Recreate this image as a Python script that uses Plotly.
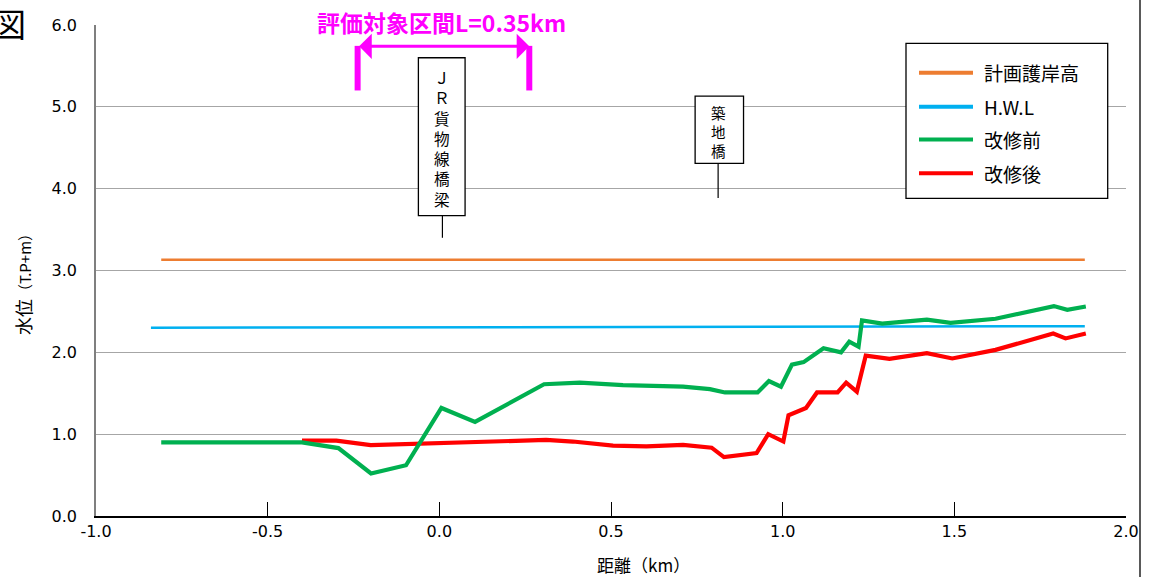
import plotly.graph_objects as go

# ---------------- data ----------------
series_names = ["計画護岸高", "H.W.L", "改修前", "改修後"]
series_colors = ["#ED7D31", "#00B0F0", "#00B050", "#FF0000"]

x_plan = [-0.81, 1.88]
y_plan = [3.13, 3.13]

x_hwl = [-0.84, 1.88]
y_hwl = [2.30, 2.32]

x_before = [-0.81, -0.40, -0.294, -0.199, -0.097, 0.006, 0.104, 0.305, 0.409, 0.535,
            0.71, 0.788, 0.832, 0.927, 0.96, 0.995, 1.027, 1.061, 1.119, 1.17,
            1.194, 1.221, 1.231, 1.29, 1.42, 1.489, 1.62, 1.79, 1.829, 1.883]
y_before = [0.90, 0.90, 0.83, 0.52, 0.62, 1.32, 1.15, 1.61, 1.63, 1.60,
            1.58, 1.55, 1.51, 1.51, 1.65, 1.58, 1.85, 1.88, 2.05, 2.00,
            2.13, 2.07, 2.39, 2.35, 2.40, 2.36, 2.41, 2.565, 2.52, 2.56]

x_after = [-0.40, -0.30, -0.20, 0.03, 0.311, 0.389, 0.506, 0.603, 0.71, 0.793,
           0.829, 0.924, 0.958, 1.002, 1.017, 1.068, 1.10, 1.16, 1.185, 1.216,
           1.242, 1.311, 1.42, 1.494, 1.62, 1.788, 1.824, 1.883]
y_after = [0.92, 0.92, 0.866, 0.90, 0.93, 0.91, 0.86, 0.85, 0.87, 0.835,
           0.72, 0.77, 1.00, 0.91, 1.23, 1.32, 1.51, 1.51, 1.63, 1.52,
           1.96, 1.92, 1.99, 1.925, 2.03, 2.23, 2.17, 2.23]

x_tickvals = [-1.0, -0.5, 0.0, 0.5, 1.0, 1.5, 2.0]
x_ticktext = ["-1.0", "-0.5", "0.0", "0.5", "1.0", "1.5", "2.0"]
y_tickvals = [0, 1, 2, 3, 4, 5, 6]
y_ticktext = ["0.0", "1.0", "2.0", "3.0", "4.0", "5.0", "6.0"]

x_title = "距離（km）"
y_title_main = "水位"
y_title_sub = "（T.P+m）"
section_title = "評価対象区間L=0.35km"
section_range = [-0.238, 0.262]
bridge_jr = ["Ｊ", "Ｒ", "貨", "物", "線", "橋", "梁"]
bridge_tsukiji = ["築", "地", "橋"]

# ---------------- layout constants ----------------
W, H = 1150, 577
ML, MR, MT, MB = 96, 24, 25, 61
PW = W - ML - MR
PH = H - MT - MB
JP = "Noto Sans CJK JP"
NUM = "DejaVu Sans"


def px2x(px):
    return (px - ML) / PW


def py2y(py):
    return (H - MB - py) / PH


fig = go.Figure()

# draw order: plan, hwl, after(red), before(green)
fig.add_trace(go.Scatter(x=x_plan, y=y_plan, mode="lines", name=series_names[0],
                         line=dict(color=series_colors[0], width=2.5), showlegend=False))
fig.add_trace(go.Scatter(x=x_hwl, y=y_hwl, mode="lines", name=series_names[1],
                         line=dict(color=series_colors[1], width=2.5), showlegend=False))
fig.add_trace(go.Scatter(x=x_after, y=y_after, mode="lines", name=series_names[3],
                         line=dict(color=series_colors[3], width=4.2), showlegend=False))
fig.add_trace(go.Scatter(x=x_before, y=y_before, mode="lines", name=series_names[2],
                         line=dict(color=series_colors[2], width=4.2), showlegend=False))

shapes = []
annotations = []

# white gap behind section title on the 6.0 gridline
shapes.append(dict(type="rect", xref="paper", yref="paper",
                   x0=px2x(253), x1=px2x(601), y0=py2y(30), y1=py2y(16),
                   fillcolor="white", line=dict(width=0), layer="above"))

# section bracket
for xv in section_range:
    shapes.append(dict(type="line", xref="x", yref="y", x0=xv, x1=xv, y0=5.20, y1=5.745,
                       line=dict(color="#FF00FF", width=6), layer="above"))
annotations.append(dict(x=section_range[1], y=5.74, ax=section_range[0], ay=5.74,
                        xref="x", yref="y", axref="x", ayref="y", text="",
                        showarrow=True, arrowhead=1, arrowside="end+start",
                        arrowwidth=3, arrowsize=1.4, arrowcolor="#FF00FF",
                        standoff=0, startstandoff=0))
annotations.append(dict(x=px2x(441), y=py2y(22), xref="paper", yref="paper",
                        text="<b>" + section_title + "</b>", showarrow=False,
                        font=dict(family=JP, size=23, color="#FF00FF"),
                        xanchor="center", yanchor="middle"))

# JR bridge label box
shapes.append(dict(type="line", xref="x", yref="y", x0=0.009, x1=0.009, y0=3.40, y1=3.67,
                   line=dict(color="black", width=1.2), layer="above"))
shapes.append(dict(type="rect", xref="x", yref="y", x0=-0.061, x1=0.075, y0=3.67, y1=5.60,
                   fillcolor="white", line=dict(color="black", width=1.3), layer="above"))
annotations.append(dict(x=0.007, y=py2y(137.5), xref="x", yref="paper",
                        text="<br>".join(bridge_jr), showarrow=False,
                        xanchor="center", yanchor="middle", align="center",
                        font=dict(family=JP, size=15.6, color="black")))

# Tsukiji bridge label box
shapes.append(dict(type="line", xref="x", yref="y", x0=0.812, x1=0.812, y0=3.885, y1=4.31,
                   line=dict(color="black", width=1.2), layer="above"))
shapes.append(dict(type="rect", xref="x", yref="y", x0=0.745, x1=0.886, y0=4.31, y1=5.13,
                   fillcolor="white", line=dict(color="black", width=1.3), layer="above"))
annotations.append(dict(x=0.814, y=py2y(131), xref="x", yref="paper",
                        text="<br>".join(bridge_tsukiji), showarrow=False,
                        xanchor="center", yanchor="middle", align="center",
                        font=dict(family=JP, size=14.5, color="black")))

# custom legend
shapes.append(dict(type="rect", xref="paper", yref="paper",
                   x0=px2x(906), x1=px2x(1107.7), y0=py2y(198.3), y1=py2y(43.3),
                   fillcolor="white", line=dict(color="black", width=1.3), layer="above"))
leg_y = [72.7, 106.7, 139.5, 173.3]
for name, color, ly in zip(series_names, series_colors, leg_y):
    shapes.append(dict(type="line", xref="paper", yref="paper",
                       x0=px2x(919), x1=px2x(973), y0=py2y(ly), y1=py2y(ly),
                       line=dict(color=color, width=4), layer="above"))
    annotations.append(dict(x=px2x(982), y=py2y(ly), xref="paper", yref="paper",
                            text=name, showarrow=False, xanchor="left", yanchor="middle",
                            font=dict(family=JP, size=19, color="black")))

# right frame line
shapes.append(dict(type="line", xref="paper", yref="paper", x0=px2x(1140), x1=px2x(1140),
                   y0=py2y(H), y1=py2y(0), line=dict(color="black", width=1.3), layer="above"))

# axis titles
annotations.append(dict(x=px2x(643), y=py2y(564), xref="paper", yref="paper",
                        text=x_title, showarrow=False, xanchor="center", yanchor="middle",
                        font=dict(family=JP, size=17, color="black")))
annotations.append(dict(x=px2x(23), y=py2y(281), xref="paper", yref="paper",
                        text=y_title_main + "<span style='font-size:15px'>" + y_title_sub + "</span>",
                        showarrow=False, textangle=-90, xanchor="center", yanchor="middle",
                        font=dict(family=JP, size=18, color="black")))
# cut-off figure glyph at top-left
annotations.append(dict(x=px2x(28), y=py2y(23), xref="paper", yref="paper",
                        text="図", showarrow=False, xanchor="right", yanchor="middle",
                        font=dict(family=JP, size=33, color="black")))

fig.update_layout(
    width=W, height=H,
    margin=dict(l=ML, r=MR, t=MT, b=MB, pad=0),
    paper_bgcolor="white", plot_bgcolor="white",
    showlegend=False,
    shapes=shapes, annotations=annotations,
    xaxis=dict(range=[-1.0, 2.0], tickvals=x_tickvals, ticktext=x_ticktext,
               showgrid=False, zeroline=False, showline=True, linecolor="black", linewidth=1.5,
               ticks="inside", ticklen=14, tickwidth=1.3, tickcolor="black",
               tickfont=dict(family=NUM, size=16, color="black")),
    yaxis=dict(range=[0, 6], tickvals=y_tickvals, ticktext=y_ticktext,
               showgrid=True, gridcolor="#A6A6A6", gridwidth=1.3, zeroline=False,
               showline=True, linecolor="#7F7F7F", linewidth=1.5, ticks="",
               ticklabelstandoff=14,
               tickfont=dict(family=NUM, size=16, color="black")),
)

fig.write_html("out.html", config={"displayModeBar": False},
               post_script="document.body.style.margin='0px';")
